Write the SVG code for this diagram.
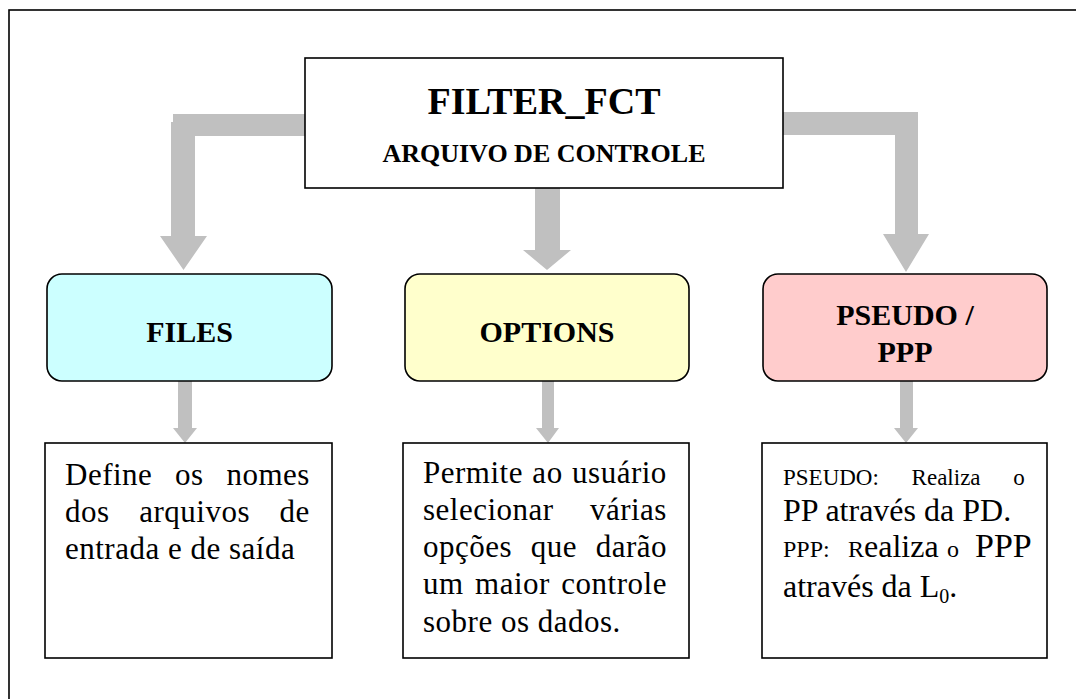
<svg xmlns="http://www.w3.org/2000/svg" width="1076" height="699" viewBox="0 0 1076 699">
<style>
.frame{fill:none;stroke:#000;stroke-width:1.6}
.box{fill:#fff;stroke:#000;stroke-width:1.6}
.rb{stroke:#000;stroke-width:1.6}
.arr{fill:#c0c0c0;stroke:none}
.tb{font-family:'Liberation Serif','Times New Roman',serif;font-weight:bold;fill:#000;text-anchor:middle}
.tr{font-family:'Liberation Serif','Times New Roman',serif;fill:#000}
.body{font-size:31px;letter-spacing:0.5px}
</style>
<rect width="1076" height="699" fill="#fff"/>
<rect class="frame" x="9" y="10" width="1090" height="720"/>
<g id="connectors">
<polygon class="arr" points="306,114 173,114 173,122 171,122 171,236 160,236 183.5,270 207,236 195,236 195,136 306,136"/>
<polygon class="arr" points="535,188 560,188 560,250 571,250 547,270 523,250 535,250"/>
<polygon class="arr" points="783,112 918,112 918,234 929,234 906,272 883,234 895,234 895,135 783,135"/>
<polygon class="arr" points="178,381 192,381 192,428 197,428 185,443 173,428 178,428"/>
<polygon class="arr" points="542,381 554,381 554,428 559,428 548,443 536,428 542,428"/>
<polygon class="arr" points="900,381 913,381 913,428 918,428 906,443 894,428 900,428"/>
</g>
<g id="filter_fct">
<rect class="box" x="305" y="58" width="478" height="130"/>
<text class="tb" x="544" y="114" font-size="38">FILTER_FCT</text>
<text class="tb" x="544" y="162" font-size="26">ARQUIVO DE CONTROLE</text>
</g>
<g id="files">
<rect class="rb" x="47" y="274" width="285" height="107" rx="15" fill="#ccffff"/>
<text class="tb" x="189.5" y="342" font-size="30">FILES</text>
</g>
<g id="options">
<rect class="rb" x="405" y="274" width="284" height="107" rx="15" fill="#ffffcc"/>
<text class="tb" x="547" y="342" font-size="30">OPTIONS</text>
</g>
<g id="pseudo">
<rect class="rb" x="763" y="274" width="284" height="107" rx="15" fill="#ffcccc"/>
<text class="tb" x="905" y="325" font-size="30">PSEUDO /</text>
<text class="tb" x="905" y="362" font-size="30">PPP</text>
</g>
<g id="files_desc">
<rect class="box" x="45" y="443" width="287" height="215"/>
<text class="tr body">
<tspan x="65" y="485" word-spacing="14.5">Define os nomes</tspan>
<tspan x="65" y="522" word-spacing="21.4">dos arquivos de</tspan>
<tspan x="65" y="559">entrada e de saída</tspan>
</text>
</g>
<g id="options_desc">
<rect class="box" x="403" y="443" width="286" height="215"/>
<text class="tr body">
<tspan x="423" y="483" word-spacing="1.2">Permite ao usuário</tspan>
<tspan x="423" y="520" word-spacing="28">selecionar várias</tspan>
<tspan x="423" y="557" word-spacing="10.4">opções que darão</tspan>
<tspan x="423" y="594" word-spacing="3.2">um maior controle</tspan>
<tspan x="423" y="632">sobre os dados.</tspan>
</text>
</g>
<g id="pseudo_desc">
<rect class="box" x="762" y="443" width="285" height="215"/>
<text class="tr" font-size="23" x="783" y="485" word-spacing="27">PSEUDO: Realiza o</text>
<text class="tr" font-size="32" x="783" y="521">PP através da PD.</text>
<text class="tr" y="557"><tspan x="783" font-size="24">PPP:</tspan><tspan x="848" font-size="24">R</tspan><tspan font-size="32">ealiza</tspan><tspan x="947" font-size="24">o</tspan><tspan x="975" font-size="34">PPP</tspan></text>
<text class="tr" font-size="32" x="783" y="597">através da L<tspan font-size="20" dy="6">0</tspan><tspan dy="-6">.</tspan></text>
</g>
</svg>
